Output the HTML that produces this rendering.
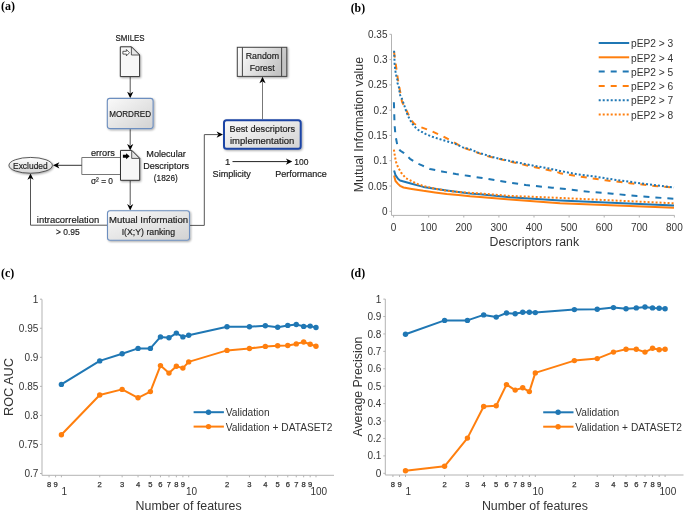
<!DOCTYPE html>
<html><head><meta charset="utf-8"><style>
html,body{margin:0;padding:0;background:#fff;}
body{width:685px;height:512px;overflow:hidden;font-family:"Liberation Sans",sans-serif;}
svg{display:block;will-change:transform;}
</style></head><body>
<svg width="685" height="512" viewBox="0 0 685 512">
<rect width="685" height="512" fill="#fff"/>
<text x="1" y="9.7" font-size="12" text-anchor="start" fill="#000" font-family='"Liberation Serif", serif' font-weight="bold" textLength="14" lengthAdjust="spacingAndGlyphs" >(a)</text>
<text x="350.7" y="11.8" font-size="12" text-anchor="start" fill="#000" font-family='"Liberation Serif", serif' font-weight="bold" textLength="14.4" lengthAdjust="spacingAndGlyphs" >(b)</text>
<text x="0.9" y="276.7" font-size="12" text-anchor="start" fill="#000" font-family='"Liberation Serif", serif' font-weight="bold" textLength="13.3" lengthAdjust="spacingAndGlyphs" >(c)</text>
<text x="350.7" y="276.7" font-size="12" text-anchor="start" fill="#000" font-family='"Liberation Serif", serif' font-weight="bold" textLength="14.4" lengthAdjust="spacingAndGlyphs" >(d)</text>
<line x1="391.5" y1="34.3" x2="391.5" y2="215.4" stroke="#b3b3b3" stroke-width="1"/>
<line x1="391.5" y1="215.4" x2="674.5" y2="215.4" stroke="#b3b3b3" stroke-width="1"/>
<line x1="389.5" y1="211.30" x2="391.5" y2="211.30" stroke="#b3b3b3" stroke-width="1"/>
<text x="387.5" y="214.9" font-size="10" text-anchor="end" fill="#333333" font-family='"Liberation Sans", sans-serif' font-weight="normal" >0</text>
<line x1="389.5" y1="186.02" x2="391.5" y2="186.02" stroke="#b3b3b3" stroke-width="1"/>
<text x="387.5" y="189.615" font-size="10" text-anchor="end" fill="#333333" font-family='"Liberation Sans", sans-serif' font-weight="normal" >0.05</text>
<line x1="389.5" y1="160.73" x2="391.5" y2="160.73" stroke="#b3b3b3" stroke-width="1"/>
<text x="387.5" y="164.33" font-size="10" text-anchor="end" fill="#333333" font-family='"Liberation Sans", sans-serif' font-weight="normal" >0.1</text>
<line x1="389.5" y1="135.44" x2="391.5" y2="135.44" stroke="#b3b3b3" stroke-width="1"/>
<text x="387.5" y="139.045" font-size="10" text-anchor="end" fill="#333333" font-family='"Liberation Sans", sans-serif' font-weight="normal" >0.15</text>
<line x1="389.5" y1="110.16" x2="391.5" y2="110.16" stroke="#b3b3b3" stroke-width="1"/>
<text x="387.5" y="113.76" font-size="10" text-anchor="end" fill="#333333" font-family='"Liberation Sans", sans-serif' font-weight="normal" >0.2</text>
<line x1="389.5" y1="84.88" x2="391.5" y2="84.88" stroke="#b3b3b3" stroke-width="1"/>
<text x="387.5" y="88.47500000000001" font-size="10" text-anchor="end" fill="#333333" font-family='"Liberation Sans", sans-serif' font-weight="normal" >0.25</text>
<line x1="389.5" y1="59.59" x2="391.5" y2="59.59" stroke="#b3b3b3" stroke-width="1"/>
<text x="387.5" y="63.190000000000005" font-size="10" text-anchor="end" fill="#333333" font-family='"Liberation Sans", sans-serif' font-weight="normal" >0.3</text>
<line x1="389.5" y1="34.31" x2="391.5" y2="34.31" stroke="#b3b3b3" stroke-width="1"/>
<text x="387.5" y="37.90500000000001" font-size="10" text-anchor="end" fill="#333333" font-family='"Liberation Sans", sans-serif' font-weight="normal" >0.35</text>
<line x1="393.60" y1="215.4" x2="393.60" y2="217.5" stroke="#b3b3b3" stroke-width="1"/>
<text x="393.6" y="230.8" font-size="10" text-anchor="middle" fill="#333333" font-family='"Liberation Sans", sans-serif' font-weight="normal" >0</text>
<line x1="428.70" y1="215.4" x2="428.70" y2="217.5" stroke="#b3b3b3" stroke-width="1"/>
<text x="428.70000000000005" y="230.8" font-size="10" text-anchor="middle" fill="#333333" font-family='"Liberation Sans", sans-serif' font-weight="normal" >100</text>
<line x1="463.80" y1="215.4" x2="463.80" y2="217.5" stroke="#b3b3b3" stroke-width="1"/>
<text x="463.8" y="230.8" font-size="10" text-anchor="middle" fill="#333333" font-family='"Liberation Sans", sans-serif' font-weight="normal" >200</text>
<line x1="498.90" y1="215.4" x2="498.90" y2="217.5" stroke="#b3b3b3" stroke-width="1"/>
<text x="498.90000000000003" y="230.8" font-size="10" text-anchor="middle" fill="#333333" font-family='"Liberation Sans", sans-serif' font-weight="normal" >300</text>
<line x1="534.00" y1="215.4" x2="534.00" y2="217.5" stroke="#b3b3b3" stroke-width="1"/>
<text x="534.0" y="230.8" font-size="10" text-anchor="middle" fill="#333333" font-family='"Liberation Sans", sans-serif' font-weight="normal" >400</text>
<line x1="569.10" y1="215.4" x2="569.10" y2="217.5" stroke="#b3b3b3" stroke-width="1"/>
<text x="569.1" y="230.8" font-size="10" text-anchor="middle" fill="#333333" font-family='"Liberation Sans", sans-serif' font-weight="normal" >500</text>
<line x1="604.20" y1="215.4" x2="604.20" y2="217.5" stroke="#b3b3b3" stroke-width="1"/>
<text x="604.2" y="230.8" font-size="10" text-anchor="middle" fill="#333333" font-family='"Liberation Sans", sans-serif' font-weight="normal" >600</text>
<line x1="639.30" y1="215.4" x2="639.30" y2="217.5" stroke="#b3b3b3" stroke-width="1"/>
<text x="639.3" y="230.8" font-size="10" text-anchor="middle" fill="#333333" font-family='"Liberation Sans", sans-serif' font-weight="normal" >700</text>
<line x1="674.40" y1="215.4" x2="674.40" y2="217.5" stroke="#b3b3b3" stroke-width="1"/>
<text x="674.4" y="230.8" font-size="10" text-anchor="middle" fill="#333333" font-family='"Liberation Sans", sans-serif' font-weight="normal" >800</text>
<text x="534.3" y="245.9" font-size="12" text-anchor="middle" fill="#333333" font-family='"Liberation Sans", sans-serif' font-weight="normal" textLength="89.5" lengthAdjust="spacingAndGlyphs" >Descriptors rank</text>
<text x="0" y="0" font-size="12" text-anchor="middle" fill="#333333" font-family='"Liberation Sans", sans-serif' textLength="135.2" lengthAdjust="spacingAndGlyphs" transform="translate(363.2,124.6) rotate(-90)">Mutual Information value</text>
<polyline points="394.10,175.60 395.50,181.00 398.00,183.90 400.00,185.80 403.50,187.50 411.70,188.90 423.40,190.80 435.00,192.40 446.70,193.90 458.40,195.10 470.00,196.30 480.00,197.10 510.00,199.40 560.00,203.20 674.00,207.80" fill="none" stroke="#ff7f0e" stroke-width="2" stroke-linejoin="round"/>
<polyline points="394.10,170.50 395.50,175.10 398.00,178.80 400.00,180.50 411.70,183.80 423.40,186.90 435.00,188.70 446.70,190.40 458.40,192.00 470.00,193.40 480.00,194.30 510.00,197.30 560.00,200.50 674.00,205.40" fill="none" stroke="#1f77b4" stroke-width="2" stroke-linejoin="round"/>
<polyline points="393.90,149.60 395.00,156.70 396.00,161.90 398.00,167.20 401.00,172.50 402.90,174.70 405.80,178.20 411.70,181.10 417.50,184.00 423.40,186.00 435.00,188.70 446.70,190.80 458.40,192.00 470.00,192.80 480.00,193.40 510.00,195.90 559.00,197.90 674.00,203.30" fill="none" stroke="#ff7f0e" stroke-width="2" stroke-linejoin="round" stroke-dasharray="2,2"/>
<polyline points="393.90,102.30 394.20,112.80 394.60,125.10 395.50,135.60 397.50,146.10 400.00,150.50 404.00,153.20 410.00,158.80 416.00,162.80 422.00,165.40 430.00,169.00 441.80,171.40 456.00,174.10 467.70,175.80 480.30,177.70 503.10,181.50 525.80,185.00 552.10,187.70 560.00,188.40 589.80,191.90 612.60,193.70 637.10,196.10 674.00,198.80" fill="none" stroke="#1f77b4" stroke-width="2" stroke-linejoin="round" stroke-dasharray="6,6"/>
<polyline points="394.00,51.70 396.00,66.00 398.00,80.00 402.00,101.70 406.70,111.00 411.40,120.50 414.00,123.50 418.50,126.30 431.30,131.00 443.00,136.30 452.40,141.50 463.50,147.70 486.30,155.90 510.80,161.70 533.60,167.00 556.40,171.70 560.00,173.20 581.00,176.70 605.50,180.30 630.00,183.20 654.60,185.90 674.00,187.60" fill="none" stroke="#ff7f0e" stroke-width="2" stroke-linejoin="round" stroke-dasharray="6,6"/>
<polyline points="394.10,50.80 394.60,63.40 395.00,67.50 395.50,71.40 396.20,75.20 397.30,79.30 397.60,83.40 399.00,87.50 399.40,91.00 400.10,95.10 402.00,98.80 404.40,105.80 406.70,112.80 409.60,119.30 412.60,124.00 415.50,127.50 418.40,130.00 425.40,133.90 432.50,136.80 440.10,139.20 447.70,141.50 455.90,144.10 462.90,147.40 470.00,149.10 477.50,152.40 495.00,157.70 512.60,161.50 530.00,165.00 547.60,168.20 560.00,170.90 577.50,174.40 595.00,176.60 612.60,179.40 630.00,181.80 647.60,184.30 674.00,187.40" fill="none" stroke="#1f77b4" stroke-width="2" stroke-linejoin="round" stroke-dasharray="2,2"/>
<line x1="598.7" y1="43.00" x2="629.2" y2="43.00" stroke="#1f77b4" stroke-width="2"/>
<text x="631" y="47.2" font-size="10" text-anchor="start" fill="#333333" font-family='"Liberation Sans", sans-serif' font-weight="normal" textLength="42.3" lengthAdjust="spacingAndGlyphs" >pEP2 &gt; 3</text>
<line x1="598.7" y1="57.30" x2="629.2" y2="57.30" stroke="#ff7f0e" stroke-width="2"/>
<text x="631" y="61.5" font-size="10" text-anchor="start" fill="#333333" font-family='"Liberation Sans", sans-serif' font-weight="normal" textLength="42.3" lengthAdjust="spacingAndGlyphs" >pEP2 &gt; 4</text>
<line x1="598.7" y1="71.60" x2="629.2" y2="71.60" stroke="#1f77b4" stroke-width="2" stroke-dasharray="6,6"/>
<text x="631" y="75.8" font-size="10" text-anchor="start" fill="#333333" font-family='"Liberation Sans", sans-serif' font-weight="normal" textLength="42.3" lengthAdjust="spacingAndGlyphs" >pEP2 &gt; 5</text>
<line x1="598.7" y1="85.90" x2="629.2" y2="85.90" stroke="#ff7f0e" stroke-width="2" stroke-dasharray="6,6"/>
<text x="631" y="90.10000000000001" font-size="10" text-anchor="start" fill="#333333" font-family='"Liberation Sans", sans-serif' font-weight="normal" textLength="42.3" lengthAdjust="spacingAndGlyphs" >pEP2 &gt; 6</text>
<line x1="598.7" y1="100.20" x2="629.2" y2="100.20" stroke="#1f77b4" stroke-width="2" stroke-dasharray="2,2"/>
<text x="631" y="104.4" font-size="10" text-anchor="start" fill="#333333" font-family='"Liberation Sans", sans-serif' font-weight="normal" textLength="42.3" lengthAdjust="spacingAndGlyphs" >pEP2 &gt; 7</text>
<line x1="598.7" y1="114.50" x2="629.2" y2="114.50" stroke="#ff7f0e" stroke-width="2" stroke-dasharray="2,2"/>
<text x="631" y="118.7" font-size="10" text-anchor="start" fill="#333333" font-family='"Liberation Sans", sans-serif' font-weight="normal" textLength="42.3" lengthAdjust="spacingAndGlyphs" >pEP2 &gt; 8</text>
<line x1="42" y1="299.4" x2="42" y2="475.3" stroke="#b3b3b3" stroke-width="1"/>
<line x1="42" y1="475.3" x2="334" y2="475.3" stroke="#b3b3b3" stroke-width="1"/>
<line x1="40" y1="299.20" x2="42" y2="299.20" stroke="#b3b3b3" stroke-width="1"/>
<text x="38.3" y="302.8" font-size="10" text-anchor="end" fill="#333333" font-family='"Liberation Sans", sans-serif' font-weight="normal" >1</text>
<line x1="40" y1="328.25" x2="42" y2="328.25" stroke="#b3b3b3" stroke-width="1"/>
<text x="38.3" y="331.85" font-size="10" text-anchor="end" fill="#333333" font-family='"Liberation Sans", sans-serif' font-weight="normal" >0.95</text>
<line x1="40" y1="357.30" x2="42" y2="357.30" stroke="#b3b3b3" stroke-width="1"/>
<text x="38.3" y="360.90000000000003" font-size="10" text-anchor="end" fill="#333333" font-family='"Liberation Sans", sans-serif' font-weight="normal" >0.9</text>
<line x1="40" y1="386.35" x2="42" y2="386.35" stroke="#b3b3b3" stroke-width="1"/>
<text x="38.3" y="389.95000000000005" font-size="10" text-anchor="end" fill="#333333" font-family='"Liberation Sans", sans-serif' font-weight="normal" >0.85</text>
<line x1="40" y1="415.40" x2="42" y2="415.40" stroke="#b3b3b3" stroke-width="1"/>
<text x="38.3" y="419.0" font-size="10" text-anchor="end" fill="#333333" font-family='"Liberation Sans", sans-serif' font-weight="normal" >0.8</text>
<line x1="40" y1="444.45" x2="42" y2="444.45" stroke="#b3b3b3" stroke-width="1"/>
<text x="38.3" y="448.05" font-size="10" text-anchor="end" fill="#333333" font-family='"Liberation Sans", sans-serif' font-weight="normal" >0.75</text>
<line x1="40" y1="473.50" x2="42" y2="473.50" stroke="#b3b3b3" stroke-width="1"/>
<text x="38.3" y="477.1" font-size="10" text-anchor="end" fill="#333333" font-family='"Liberation Sans", sans-serif' font-weight="normal" >0.7</text>
<line x1="49.06" y1="475.3" x2="49.06" y2="477.3" stroke="#b3b3b3" stroke-width="1"/>
<text x="49.063355344074424" y="487.1" font-size="7.6" text-anchor="middle" fill="#333333" font-family='"Liberation Sans", sans-serif' font-weight="normal" stroke="#333" stroke-width="0.25">8</text>
<line x1="55.58" y1="475.3" x2="55.58" y2="477.3" stroke="#b3b3b3" stroke-width="1"/>
<text x="55.57507145162606" y="487.1" font-size="7.6" text-anchor="middle" fill="#333333" font-family='"Liberation Sans", sans-serif' font-weight="normal" stroke="#333" stroke-width="0.25">9</text>
<line x1="61.40" y1="475.3" x2="61.40" y2="477.3" stroke="#b3b3b3" stroke-width="1"/>
<text x="64.2" y="494.9" font-size="10" text-anchor="middle" fill="#333333" font-family='"Liberation Sans", sans-serif' font-weight="normal" >1</text>
<line x1="99.72" y1="475.3" x2="99.72" y2="477.3" stroke="#b3b3b3" stroke-width="1"/>
<text x="99.72111844802481" y="487.1" font-size="7.6" text-anchor="middle" fill="#333333" font-family='"Liberation Sans", sans-serif' font-weight="normal" stroke="#333" stroke-width="0.25">2</text>
<line x1="122.14" y1="475.3" x2="122.14" y2="477.3" stroke="#b3b3b3" stroke-width="1"/>
<text x="122.13753572581302" y="487.1" font-size="7.6" text-anchor="middle" fill="#333333" font-family='"Liberation Sans", sans-serif' font-weight="normal" stroke="#333" stroke-width="0.25">3</text>
<line x1="138.04" y1="475.3" x2="138.04" y2="477.3" stroke="#b3b3b3" stroke-width="1"/>
<text x="138.04223689604962" y="487.1" font-size="7.6" text-anchor="middle" fill="#333333" font-family='"Liberation Sans", sans-serif' font-weight="normal" stroke="#333" stroke-width="0.25">4</text>
<line x1="150.38" y1="475.3" x2="150.38" y2="477.3" stroke="#b3b3b3" stroke-width="1"/>
<text x="150.37888155197518" y="487.1" font-size="7.6" text-anchor="middle" fill="#333333" font-family='"Liberation Sans", sans-serif' font-weight="normal" stroke="#333" stroke-width="0.25">5</text>
<line x1="160.46" y1="475.3" x2="160.46" y2="477.3" stroke="#b3b3b3" stroke-width="1"/>
<text x="160.45865417383783" y="487.1" font-size="7.6" text-anchor="middle" fill="#333333" font-family='"Liberation Sans", sans-serif' font-weight="normal" stroke="#333" stroke-width="0.25">6</text>
<line x1="168.98" y1="475.3" x2="168.98" y2="477.3" stroke="#b3b3b3" stroke-width="1"/>
<text x="168.98098049381488" y="487.1" font-size="7.6" text-anchor="middle" fill="#333333" font-family='"Liberation Sans", sans-serif' font-weight="normal" stroke="#333" stroke-width="0.25">7</text>
<line x1="176.36" y1="475.3" x2="176.36" y2="477.3" stroke="#b3b3b3" stroke-width="1"/>
<text x="176.36335534407442" y="487.1" font-size="7.6" text-anchor="middle" fill="#333333" font-family='"Liberation Sans", sans-serif' font-weight="normal" stroke="#333" stroke-width="0.25">8</text>
<line x1="182.88" y1="475.3" x2="182.88" y2="477.3" stroke="#b3b3b3" stroke-width="1"/>
<text x="182.87507145162604" y="487.1" font-size="7.6" text-anchor="middle" fill="#333333" font-family='"Liberation Sans", sans-serif' font-weight="normal" stroke="#333" stroke-width="0.25">9</text>
<line x1="188.70" y1="475.3" x2="188.70" y2="477.3" stroke="#b3b3b3" stroke-width="1"/>
<text x="191.5" y="494.9" font-size="10" text-anchor="middle" fill="#333333" font-family='"Liberation Sans", sans-serif' font-weight="normal" >10</text>
<line x1="227.02" y1="475.3" x2="227.02" y2="477.3" stroke="#b3b3b3" stroke-width="1"/>
<text x="227.02111844802482" y="487.1" font-size="7.6" text-anchor="middle" fill="#333333" font-family='"Liberation Sans", sans-serif' font-weight="normal" stroke="#333" stroke-width="0.25">2</text>
<line x1="249.44" y1="475.3" x2="249.44" y2="477.3" stroke="#b3b3b3" stroke-width="1"/>
<text x="249.43753572581304" y="487.1" font-size="7.6" text-anchor="middle" fill="#333333" font-family='"Liberation Sans", sans-serif' font-weight="normal" stroke="#333" stroke-width="0.25">3</text>
<line x1="265.34" y1="475.3" x2="265.34" y2="477.3" stroke="#b3b3b3" stroke-width="1"/>
<text x="265.3422368960496" y="487.1" font-size="7.6" text-anchor="middle" fill="#333333" font-family='"Liberation Sans", sans-serif' font-weight="normal" stroke="#333" stroke-width="0.25">4</text>
<line x1="277.68" y1="475.3" x2="277.68" y2="477.3" stroke="#b3b3b3" stroke-width="1"/>
<text x="277.67888155197517" y="487.1" font-size="7.6" text-anchor="middle" fill="#333333" font-family='"Liberation Sans", sans-serif' font-weight="normal" stroke="#333" stroke-width="0.25">5</text>
<line x1="287.76" y1="475.3" x2="287.76" y2="477.3" stroke="#b3b3b3" stroke-width="1"/>
<text x="287.75865417383784" y="487.1" font-size="7.6" text-anchor="middle" fill="#333333" font-family='"Liberation Sans", sans-serif' font-weight="normal" stroke="#333" stroke-width="0.25">6</text>
<line x1="296.28" y1="475.3" x2="296.28" y2="477.3" stroke="#b3b3b3" stroke-width="1"/>
<text x="296.28098049381487" y="487.1" font-size="7.6" text-anchor="middle" fill="#333333" font-family='"Liberation Sans", sans-serif' font-weight="normal" stroke="#333" stroke-width="0.25">7</text>
<line x1="303.66" y1="475.3" x2="303.66" y2="477.3" stroke="#b3b3b3" stroke-width="1"/>
<text x="303.6633553440744" y="487.1" font-size="7.6" text-anchor="middle" fill="#333333" font-family='"Liberation Sans", sans-serif' font-weight="normal" stroke="#333" stroke-width="0.25">8</text>
<line x1="310.18" y1="475.3" x2="310.18" y2="477.3" stroke="#b3b3b3" stroke-width="1"/>
<text x="310.175071451626" y="487.1" font-size="7.6" text-anchor="middle" fill="#333333" font-family='"Liberation Sans", sans-serif' font-weight="normal" stroke="#333" stroke-width="0.25">9</text>
<line x1="316.00" y1="475.3" x2="316.00" y2="477.3" stroke="#b3b3b3" stroke-width="1"/>
<text x="318.8" y="494.9" font-size="10" text-anchor="middle" fill="#333333" font-family='"Liberation Sans", sans-serif' font-weight="normal" >100</text>
<polyline points="61.40,434.70 99.72,395.00 122.14,389.40 138.04,397.80 150.38,391.60 160.46,365.60 168.98,373.10 176.36,366.25 182.88,368.10 188.70,361.90 227.02,350.40 249.44,348.50 265.34,346.40 277.68,345.70 287.76,345.50 296.28,343.90 303.66,342.00 310.18,344.30 316.00,346.20" fill="none" stroke="#ff7f0e" stroke-width="2" stroke-linejoin="round"/>
<circle cx="61.40" cy="434.70" r="2.7" fill="#ff7f0e"/>
<circle cx="99.72" cy="395.00" r="2.7" fill="#ff7f0e"/>
<circle cx="122.14" cy="389.40" r="2.7" fill="#ff7f0e"/>
<circle cx="138.04" cy="397.80" r="2.7" fill="#ff7f0e"/>
<circle cx="150.38" cy="391.60" r="2.7" fill="#ff7f0e"/>
<circle cx="160.46" cy="365.60" r="2.7" fill="#ff7f0e"/>
<circle cx="168.98" cy="373.10" r="2.7" fill="#ff7f0e"/>
<circle cx="176.36" cy="366.25" r="2.7" fill="#ff7f0e"/>
<circle cx="182.88" cy="368.10" r="2.7" fill="#ff7f0e"/>
<circle cx="188.70" cy="361.90" r="2.7" fill="#ff7f0e"/>
<circle cx="227.02" cy="350.40" r="2.7" fill="#ff7f0e"/>
<circle cx="249.44" cy="348.50" r="2.7" fill="#ff7f0e"/>
<circle cx="265.34" cy="346.40" r="2.7" fill="#ff7f0e"/>
<circle cx="277.68" cy="345.70" r="2.7" fill="#ff7f0e"/>
<circle cx="287.76" cy="345.50" r="2.7" fill="#ff7f0e"/>
<circle cx="296.28" cy="343.90" r="2.7" fill="#ff7f0e"/>
<circle cx="303.66" cy="342.00" r="2.7" fill="#ff7f0e"/>
<circle cx="310.18" cy="344.30" r="2.7" fill="#ff7f0e"/>
<circle cx="316.00" cy="346.20" r="2.7" fill="#ff7f0e"/>
<polyline points="61.40,384.40 99.72,360.90 122.14,353.75 138.04,348.40 150.38,348.40 160.46,336.90 168.98,337.80 176.36,333.10 182.88,336.90 188.70,335.30 227.02,326.80 249.44,326.80 265.34,325.70 277.68,327.30 287.76,325.40 296.28,324.50 303.66,326.40 310.18,326.10 316.00,327.50" fill="none" stroke="#1f77b4" stroke-width="2" stroke-linejoin="round"/>
<circle cx="61.40" cy="384.40" r="2.7" fill="#1f77b4"/>
<circle cx="99.72" cy="360.90" r="2.7" fill="#1f77b4"/>
<circle cx="122.14" cy="353.75" r="2.7" fill="#1f77b4"/>
<circle cx="138.04" cy="348.40" r="2.7" fill="#1f77b4"/>
<circle cx="150.38" cy="348.40" r="2.7" fill="#1f77b4"/>
<circle cx="160.46" cy="336.90" r="2.7" fill="#1f77b4"/>
<circle cx="168.98" cy="337.80" r="2.7" fill="#1f77b4"/>
<circle cx="176.36" cy="333.10" r="2.7" fill="#1f77b4"/>
<circle cx="182.88" cy="336.90" r="2.7" fill="#1f77b4"/>
<circle cx="188.70" cy="335.30" r="2.7" fill="#1f77b4"/>
<circle cx="227.02" cy="326.80" r="2.7" fill="#1f77b4"/>
<circle cx="249.44" cy="326.80" r="2.7" fill="#1f77b4"/>
<circle cx="265.34" cy="325.70" r="2.7" fill="#1f77b4"/>
<circle cx="277.68" cy="327.30" r="2.7" fill="#1f77b4"/>
<circle cx="287.76" cy="325.40" r="2.7" fill="#1f77b4"/>
<circle cx="296.28" cy="324.50" r="2.7" fill="#1f77b4"/>
<circle cx="303.66" cy="326.40" r="2.7" fill="#1f77b4"/>
<circle cx="310.18" cy="326.10" r="2.7" fill="#1f77b4"/>
<circle cx="316.00" cy="327.50" r="2.7" fill="#1f77b4"/>
<line x1="193.6" y1="412.2" x2="223.9" y2="412.2" stroke="#1f77b4" stroke-width="2"/>
<circle cx="208.5" cy="412.2" r="2.7" fill="#1f77b4"/>
<text x="225.7" y="416.2" font-size="10.2" text-anchor="start" fill="#333333" font-family='"Liberation Sans", sans-serif' font-weight="normal" >Validation</text>
<line x1="193.6" y1="426.59999999999997" x2="223.9" y2="426.59999999999997" stroke="#ff7f0e" stroke-width="2"/>
<circle cx="208.5" cy="426.59999999999997" r="2.7" fill="#ff7f0e"/>
<text x="225.7" y="430.59999999999997" font-size="10.2" text-anchor="start" fill="#333333" font-family='"Liberation Sans", sans-serif' font-weight="normal" >Validation + DATASET2</text>
<text x="188.6" y="510.2" font-size="12" text-anchor="middle" fill="#333333" font-family='"Liberation Sans", sans-serif' font-weight="normal" textLength="106" lengthAdjust="spacingAndGlyphs" >Number of features</text>
<text x="0" y="0" font-size="12" text-anchor="middle" fill="#333333" font-family='"Liberation Sans", sans-serif' textLength="58" lengthAdjust="spacingAndGlyphs" transform="translate(13.0,387) rotate(-90)">ROC AUC</text>
<line x1="385.3" y1="299.1" x2="385.3" y2="475" stroke="#b3b3b3" stroke-width="1"/>
<line x1="385.3" y1="475" x2="683.5" y2="475" stroke="#b3b3b3" stroke-width="1"/>
<line x1="383.3" y1="299.10" x2="385.3" y2="299.10" stroke="#b3b3b3" stroke-width="1"/>
<text x="381.3" y="302.70000000000005" font-size="10" text-anchor="end" fill="#333333" font-family='"Liberation Sans", sans-serif' font-weight="normal" >1</text>
<line x1="383.3" y1="316.52" x2="385.3" y2="316.52" stroke="#b3b3b3" stroke-width="1"/>
<text x="381.3" y="320.12000000000006" font-size="10" text-anchor="end" fill="#333333" font-family='"Liberation Sans", sans-serif' font-weight="normal" >0.9</text>
<line x1="383.3" y1="333.94" x2="385.3" y2="333.94" stroke="#b3b3b3" stroke-width="1"/>
<text x="381.3" y="337.5400000000001" font-size="10" text-anchor="end" fill="#333333" font-family='"Liberation Sans", sans-serif' font-weight="normal" >0.8</text>
<line x1="383.3" y1="351.36" x2="385.3" y2="351.36" stroke="#b3b3b3" stroke-width="1"/>
<text x="381.3" y="354.96000000000004" font-size="10" text-anchor="end" fill="#333333" font-family='"Liberation Sans", sans-serif' font-weight="normal" >0.7</text>
<line x1="383.3" y1="368.78" x2="385.3" y2="368.78" stroke="#b3b3b3" stroke-width="1"/>
<text x="381.3" y="372.38000000000005" font-size="10" text-anchor="end" fill="#333333" font-family='"Liberation Sans", sans-serif' font-weight="normal" >0.6</text>
<line x1="383.3" y1="386.20" x2="385.3" y2="386.20" stroke="#b3b3b3" stroke-width="1"/>
<text x="381.3" y="389.80000000000007" font-size="10" text-anchor="end" fill="#333333" font-family='"Liberation Sans", sans-serif' font-weight="normal" >0.5</text>
<line x1="383.3" y1="403.62" x2="385.3" y2="403.62" stroke="#b3b3b3" stroke-width="1"/>
<text x="381.3" y="407.22" font-size="10" text-anchor="end" fill="#333333" font-family='"Liberation Sans", sans-serif' font-weight="normal" >0.4</text>
<line x1="383.3" y1="421.04" x2="385.3" y2="421.04" stroke="#b3b3b3" stroke-width="1"/>
<text x="381.3" y="424.64000000000004" font-size="10" text-anchor="end" fill="#333333" font-family='"Liberation Sans", sans-serif' font-weight="normal" >0.3</text>
<line x1="383.3" y1="438.46" x2="385.3" y2="438.46" stroke="#b3b3b3" stroke-width="1"/>
<text x="381.3" y="442.06000000000006" font-size="10" text-anchor="end" fill="#333333" font-family='"Liberation Sans", sans-serif' font-weight="normal" >0.2</text>
<line x1="383.3" y1="455.88" x2="385.3" y2="455.88" stroke="#b3b3b3" stroke-width="1"/>
<text x="381.3" y="459.4800000000001" font-size="10" text-anchor="end" fill="#333333" font-family='"Liberation Sans", sans-serif' font-weight="normal" >0.1</text>
<line x1="383.3" y1="473.30" x2="385.3" y2="473.30" stroke="#b3b3b3" stroke-width="1"/>
<text x="381.3" y="476.9000000000001" font-size="10" text-anchor="end" fill="#333333" font-family='"Liberation Sans", sans-serif' font-weight="normal" >0</text>
<line x1="392.92" y1="475" x2="392.92" y2="477" stroke="#b3b3b3" stroke-width="1"/>
<text x="392.9210803115543" y="487.1" font-size="7.6" text-anchor="middle" fill="#333333" font-family='"Liberation Sans", sans-serif' font-weight="normal" stroke="#333" stroke-width="0.25">8</text>
<line x1="399.56" y1="475" x2="399.56" y2="477" stroke="#b3b3b3" stroke-width="1"/>
<text x="399.56067772522437" y="487.1" font-size="7.6" text-anchor="middle" fill="#333333" font-family='"Liberation Sans", sans-serif' font-weight="normal" stroke="#333" stroke-width="0.25">9</text>
<line x1="405.50" y1="475" x2="405.50" y2="477" stroke="#b3b3b3" stroke-width="1"/>
<text x="408.3" y="494.9" font-size="10" text-anchor="middle" fill="#333333" font-family='"Liberation Sans", sans-serif' font-weight="normal" >1</text>
<line x1="444.57" y1="475" x2="444.57" y2="477" stroke="#b3b3b3" stroke-width="1"/>
<text x="444.5736934371848" y="487.1" font-size="7.6" text-anchor="middle" fill="#333333" font-family='"Liberation Sans", sans-serif' font-weight="normal" stroke="#333" stroke-width="0.25">2</text>
<line x1="467.43" y1="475" x2="467.43" y2="477" stroke="#b3b3b3" stroke-width="1"/>
<text x="467.4303388626122" y="487.1" font-size="7.6" text-anchor="middle" fill="#333333" font-family='"Liberation Sans", sans-serif' font-weight="normal" stroke="#333" stroke-width="0.25">3</text>
<line x1="483.65" y1="475" x2="483.65" y2="477" stroke="#b3b3b3" stroke-width="1"/>
<text x="483.64738687436954" y="487.1" font-size="7.6" text-anchor="middle" fill="#333333" font-family='"Liberation Sans", sans-serif' font-weight="normal" stroke="#333" stroke-width="0.25">4</text>
<line x1="496.23" y1="475" x2="496.23" y2="477" stroke="#b3b3b3" stroke-width="1"/>
<text x="496.22630656281524" y="487.1" font-size="7.6" text-anchor="middle" fill="#333333" font-family='"Liberation Sans", sans-serif' font-weight="normal" stroke="#333" stroke-width="0.25">5</text>
<line x1="506.50" y1="475" x2="506.50" y2="477" stroke="#b3b3b3" stroke-width="1"/>
<text x="506.50403229979696" y="487.1" font-size="7.6" text-anchor="middle" fill="#333333" font-family='"Liberation Sans", sans-serif' font-weight="normal" stroke="#333" stroke-width="0.25">6</text>
<line x1="515.19" y1="475" x2="515.19" y2="477" stroke="#b3b3b3" stroke-width="1"/>
<text x="515.1937255938506" y="487.1" font-size="7.6" text-anchor="middle" fill="#333333" font-family='"Liberation Sans", sans-serif' font-weight="normal" stroke="#333" stroke-width="0.25">7</text>
<line x1="522.72" y1="475" x2="522.72" y2="477" stroke="#b3b3b3" stroke-width="1"/>
<text x="522.7210803115543" y="487.1" font-size="7.6" text-anchor="middle" fill="#333333" font-family='"Liberation Sans", sans-serif' font-weight="normal" stroke="#333" stroke-width="0.25">8</text>
<line x1="529.36" y1="475" x2="529.36" y2="477" stroke="#b3b3b3" stroke-width="1"/>
<text x="529.3606777252244" y="487.1" font-size="7.6" text-anchor="middle" fill="#333333" font-family='"Liberation Sans", sans-serif' font-weight="normal" stroke="#333" stroke-width="0.25">9</text>
<line x1="535.30" y1="475" x2="535.30" y2="477" stroke="#b3b3b3" stroke-width="1"/>
<text x="538.0999999999999" y="494.9" font-size="10" text-anchor="middle" fill="#333333" font-family='"Liberation Sans", sans-serif' font-weight="normal" >10</text>
<line x1="574.37" y1="475" x2="574.37" y2="477" stroke="#b3b3b3" stroke-width="1"/>
<text x="574.3736934371848" y="487.1" font-size="7.6" text-anchor="middle" fill="#333333" font-family='"Liberation Sans", sans-serif' font-weight="normal" stroke="#333" stroke-width="0.25">2</text>
<line x1="597.23" y1="475" x2="597.23" y2="477" stroke="#b3b3b3" stroke-width="1"/>
<text x="597.2303388626121" y="487.1" font-size="7.6" text-anchor="middle" fill="#333333" font-family='"Liberation Sans", sans-serif' font-weight="normal" stroke="#333" stroke-width="0.25">3</text>
<line x1="613.45" y1="475" x2="613.45" y2="477" stroke="#b3b3b3" stroke-width="1"/>
<text x="613.4473868743696" y="487.1" font-size="7.6" text-anchor="middle" fill="#333333" font-family='"Liberation Sans", sans-serif' font-weight="normal" stroke="#333" stroke-width="0.25">4</text>
<line x1="626.03" y1="475" x2="626.03" y2="477" stroke="#b3b3b3" stroke-width="1"/>
<text x="626.0263065628153" y="487.1" font-size="7.6" text-anchor="middle" fill="#333333" font-family='"Liberation Sans", sans-serif' font-weight="normal" stroke="#333" stroke-width="0.25">5</text>
<line x1="636.30" y1="475" x2="636.30" y2="477" stroke="#b3b3b3" stroke-width="1"/>
<text x="636.304032299797" y="487.1" font-size="7.6" text-anchor="middle" fill="#333333" font-family='"Liberation Sans", sans-serif' font-weight="normal" stroke="#333" stroke-width="0.25">6</text>
<line x1="644.99" y1="475" x2="644.99" y2="477" stroke="#b3b3b3" stroke-width="1"/>
<text x="644.9937255938505" y="487.1" font-size="7.6" text-anchor="middle" fill="#333333" font-family='"Liberation Sans", sans-serif' font-weight="normal" stroke="#333" stroke-width="0.25">7</text>
<line x1="652.52" y1="475" x2="652.52" y2="477" stroke="#b3b3b3" stroke-width="1"/>
<text x="652.5210803115543" y="487.1" font-size="7.6" text-anchor="middle" fill="#333333" font-family='"Liberation Sans", sans-serif' font-weight="normal" stroke="#333" stroke-width="0.25">8</text>
<line x1="659.16" y1="475" x2="659.16" y2="477" stroke="#b3b3b3" stroke-width="1"/>
<text x="659.1606777252243" y="487.1" font-size="7.6" text-anchor="middle" fill="#333333" font-family='"Liberation Sans", sans-serif' font-weight="normal" stroke="#333" stroke-width="0.25">9</text>
<line x1="665.10" y1="475" x2="665.10" y2="477" stroke="#b3b3b3" stroke-width="1"/>
<text x="667.9" y="494.9" font-size="10" text-anchor="middle" fill="#333333" font-family='"Liberation Sans", sans-serif' font-weight="normal" >100</text>
<polyline points="405.50,470.80 444.57,466.30 467.43,438.10 483.65,406.50 496.23,405.70 506.50,384.60 515.19,390.10 522.72,387.80 529.36,391.60 535.30,372.90 574.37,360.60 597.23,358.60 613.45,352.10 626.03,349.20 636.30,349.20 644.99,352.10 652.52,348.30 659.16,349.80 665.10,349.20" fill="none" stroke="#ff7f0e" stroke-width="2" stroke-linejoin="round"/>
<circle cx="405.50" cy="470.80" r="2.7" fill="#ff7f0e"/>
<circle cx="444.57" cy="466.30" r="2.7" fill="#ff7f0e"/>
<circle cx="467.43" cy="438.10" r="2.7" fill="#ff7f0e"/>
<circle cx="483.65" cy="406.50" r="2.7" fill="#ff7f0e"/>
<circle cx="496.23" cy="405.70" r="2.7" fill="#ff7f0e"/>
<circle cx="506.50" cy="384.60" r="2.7" fill="#ff7f0e"/>
<circle cx="515.19" cy="390.10" r="2.7" fill="#ff7f0e"/>
<circle cx="522.72" cy="387.80" r="2.7" fill="#ff7f0e"/>
<circle cx="529.36" cy="391.60" r="2.7" fill="#ff7f0e"/>
<circle cx="535.30" cy="372.90" r="2.7" fill="#ff7f0e"/>
<circle cx="574.37" cy="360.60" r="2.7" fill="#ff7f0e"/>
<circle cx="597.23" cy="358.60" r="2.7" fill="#ff7f0e"/>
<circle cx="613.45" cy="352.10" r="2.7" fill="#ff7f0e"/>
<circle cx="626.03" cy="349.20" r="2.7" fill="#ff7f0e"/>
<circle cx="636.30" cy="349.20" r="2.7" fill="#ff7f0e"/>
<circle cx="644.99" cy="352.10" r="2.7" fill="#ff7f0e"/>
<circle cx="652.52" cy="348.30" r="2.7" fill="#ff7f0e"/>
<circle cx="659.16" cy="349.80" r="2.7" fill="#ff7f0e"/>
<circle cx="665.10" cy="349.20" r="2.7" fill="#ff7f0e"/>
<polyline points="405.50,334.20 444.57,320.40 467.43,320.40 483.65,314.90 496.23,317.10 506.50,313.00 515.19,313.80 522.72,312.30 529.36,312.30 535.30,312.60 574.37,309.60 597.23,309.30 613.45,307.60 626.03,308.80 636.30,307.90 644.99,307.00 652.52,307.90 659.16,308.20 665.10,308.80" fill="none" stroke="#1f77b4" stroke-width="2" stroke-linejoin="round"/>
<circle cx="405.50" cy="334.20" r="2.7" fill="#1f77b4"/>
<circle cx="444.57" cy="320.40" r="2.7" fill="#1f77b4"/>
<circle cx="467.43" cy="320.40" r="2.7" fill="#1f77b4"/>
<circle cx="483.65" cy="314.90" r="2.7" fill="#1f77b4"/>
<circle cx="496.23" cy="317.10" r="2.7" fill="#1f77b4"/>
<circle cx="506.50" cy="313.00" r="2.7" fill="#1f77b4"/>
<circle cx="515.19" cy="313.80" r="2.7" fill="#1f77b4"/>
<circle cx="522.72" cy="312.30" r="2.7" fill="#1f77b4"/>
<circle cx="529.36" cy="312.30" r="2.7" fill="#1f77b4"/>
<circle cx="535.30" cy="312.60" r="2.7" fill="#1f77b4"/>
<circle cx="574.37" cy="309.60" r="2.7" fill="#1f77b4"/>
<circle cx="597.23" cy="309.30" r="2.7" fill="#1f77b4"/>
<circle cx="613.45" cy="307.60" r="2.7" fill="#1f77b4"/>
<circle cx="626.03" cy="308.80" r="2.7" fill="#1f77b4"/>
<circle cx="636.30" cy="307.90" r="2.7" fill="#1f77b4"/>
<circle cx="644.99" cy="307.00" r="2.7" fill="#1f77b4"/>
<circle cx="652.52" cy="307.90" r="2.7" fill="#1f77b4"/>
<circle cx="659.16" cy="308.20" r="2.7" fill="#1f77b4"/>
<circle cx="665.10" cy="308.80" r="2.7" fill="#1f77b4"/>
<line x1="543.2" y1="412.3" x2="573.5" y2="412.3" stroke="#1f77b4" stroke-width="2"/>
<circle cx="558.1" cy="412.3" r="2.7" fill="#1f77b4"/>
<text x="575.3000000000001" y="416.3" font-size="10.2" text-anchor="start" fill="#333333" font-family='"Liberation Sans", sans-serif' font-weight="normal" >Validation</text>
<line x1="543.2" y1="426.7" x2="573.5" y2="426.7" stroke="#ff7f0e" stroke-width="2"/>
<circle cx="558.1" cy="426.7" r="2.7" fill="#ff7f0e"/>
<text x="575.3000000000001" y="430.7" font-size="10.2" text-anchor="start" fill="#333333" font-family='"Liberation Sans", sans-serif' font-weight="normal" >Validation + DATASET2</text>
<text x="534.9" y="510.2" font-size="12" text-anchor="middle" fill="#333333" font-family='"Liberation Sans", sans-serif' font-weight="normal" textLength="106" lengthAdjust="spacingAndGlyphs" >Number of features</text>
<text x="0" y="0" font-size="12" text-anchor="middle" fill="#333333" font-family='"Liberation Sans", sans-serif' textLength="100" lengthAdjust="spacingAndGlyphs" transform="translate(362.1,386.6) rotate(-90)">Average Precision</text>
<defs>
<linearGradient id="gbox" x1="0" y1="0" x2="1" y2="1"><stop offset="0" stop-color="#fafafa"/><stop offset="1" stop-color="#d2d2d2"/></linearGradient>
<linearGradient id="gell" x1="0" y1="0" x2="0" y2="1"><stop offset="0" stop-color="#ffffff"/><stop offset="1" stop-color="#d4d4d4"/></linearGradient>
<linearGradient id="grf" x1="0" y1="0" x2="1" y2="0.3"><stop offset="0" stop-color="#ffffff"/><stop offset="1" stop-color="#c4c4c4"/></linearGradient>
<filter id="sh" x="-20%" y="-20%" width="150%" height="150%"><feGaussianBlur in="SourceAlpha" stdDeviation="0.8"/><feOffset dx="1.2" dy="1.2"/><feComponentTransfer><feFuncA type="linear" slope="0.35"/></feComponentTransfer><feMerge><feMergeNode/><feMergeNode in="SourceGraphic"/></feMerge></filter>
</defs>
<line x1="130.2" y1="77" x2="130.2" y2="93" stroke="#555" stroke-width="1"/>
<polygon points="130.20,98.20 127.10,91.80 130.20,93.59 133.30,91.80" fill="#000"/>
<line x1="130.2" y1="128.7" x2="130.2" y2="145" stroke="#555" stroke-width="1"/>
<polygon points="130.20,150.40 127.10,144.00 130.20,145.79 133.30,144.00" fill="#000"/>
<line x1="130.2" y1="180.3" x2="130.2" y2="205" stroke="#555" stroke-width="1"/>
<polygon points="130.20,210.50 127.10,204.10 130.20,205.89 133.30,204.10" fill="#000"/>
<polyline points="120.5,157.5 81.8,157.5 81.8,174.5 120.5,174.5" fill="none" stroke="#777" stroke-width="1"/>
<line x1="81.8" y1="165.3" x2="57" y2="165.3" stroke="#333" stroke-width="1"/>
<polygon points="53.00,165.30 59.40,162.20 57.61,165.30 59.40,168.40" fill="#000"/>
<polyline points="107.3,225.2 30.5,225.2 30.5,178" fill="none" stroke="#555" stroke-width="1"/>
<polygon points="30.50,173.40 27.40,179.80 30.50,178.01 33.60,179.80" fill="#000"/>
<polyline points="189.7,225.4 204.3,225.4 204.3,134.6 218,134.6" fill="none" stroke="#555" stroke-width="1"/>
<polygon points="223.00,134.60 216.60,131.50 218.39,134.60 216.60,137.70" fill="#000"/>
<line x1="262.5" y1="119.2" x2="262.5" y2="82" stroke="#777" stroke-width="1"/>
<polygon points="262.50,76.80 259.40,83.20 262.50,81.41 265.60,83.20" fill="#000"/>
<line x1="232.5" y1="161.6" x2="288" y2="161.6" stroke="#222" stroke-width="1"/>
<polygon points="292.30,161.60 285.90,158.50 287.69,161.60 285.90,164.70" fill="#000"/>
<g filter="url(#sh)"><path d="M120.3,46.8 L131.4,46.8 L139.6,55.0 L139.6,76.6 L120.3,76.6 Z" fill="#f7f7f7" stroke="#333" stroke-width="1"/></g>
<path d="M131.4,46.8 L131.4,55.0 L139.6,55.0 Z" fill="#e6e6e6" stroke="#333" stroke-width="0.8"/>
<path d="M122.89999999999999,51.3 L126.39999999999999,51.3 L126.39999999999999,49.49999999999999 L129.5,52.699999999999996 L126.39999999999999,55.9 L126.39999999999999,54.099999999999994 L122.89999999999999,54.099999999999994 Z" fill="#fff" stroke="#333" stroke-width="0.8"/>
<g filter="url(#sh)"><path d="M120.5,150.4 L131.7,150.4 L139.7,158.4 L139.7,180.3 L120.5,180.3 Z" fill="#f7f7f7" stroke="#333" stroke-width="1"/></g>
<path d="M131.7,150.4 L131.7,158.4 L139.7,158.4 Z" fill="#e6e6e6" stroke="#333" stroke-width="0.8"/>
<path d="M122.89999999999999,154.8 L126.1,154.8 L126.1,153.3 L129.7,156.3 L126.1,159.3 L126.1,157.8 L122.89999999999999,157.8 Z" fill="#000"/>
<g filter="url(#sh)"><rect x="107.3" y="98.4" width="45.8" height="30.2" rx="2.5" fill="url(#gbox)" stroke="#6c8ebf" stroke-width="1.1"/></g>
<g filter="url(#sh)"><rect x="107.5" y="210.7" width="82" height="29.6" rx="2.5" fill="url(#gbox)" stroke="#6c8ebf" stroke-width="1.1"/></g>
<g filter="url(#sh)"><rect x="224" y="120.2" width="76.7" height="28.6" rx="2.5" fill="url(#gbox)" stroke="#1d45a5" stroke-width="2"/></g>
<g filter="url(#sh)"><rect x="237.3" y="47.3" width="49.5" height="29.1" fill="url(#grf)" stroke="#444" stroke-width="1"/></g>
<line x1="242.4" y1="47.3" x2="242.4" y2="76.4" stroke="#444" stroke-width="1"/>
<line x1="281.6" y1="47.3" x2="281.6" y2="76.4" stroke="#444" stroke-width="1"/>
<g filter="url(#sh)"><ellipse cx="30.65" cy="165.35" rx="21.7" ry="7.9" fill="url(#gell)" stroke="#333" stroke-width="0.8"/></g>
<text x="130.1" y="41.2" font-size="8.6" text-anchor="middle" fill="#1a1a1a" font-family='"Liberation Sans", sans-serif' font-weight="normal" textLength="29" lengthAdjust="spacingAndGlyphs" stroke="#1a1a1a" stroke-width="0.18">SMILES</text>
<text x="130.15" y="117" font-size="9.6" text-anchor="middle" fill="#1a1a1a" font-family='"Liberation Sans", sans-serif' font-weight="normal" textLength="41.9" lengthAdjust="spacingAndGlyphs" stroke="#1a1a1a" stroke-width="0.18">MORDRED</text>
<text x="166.05" y="156.9" font-size="9.6" text-anchor="middle" fill="#1a1a1a" font-family='"Liberation Sans", sans-serif' font-weight="normal" textLength="39.5" lengthAdjust="spacingAndGlyphs" stroke="#1a1a1a" stroke-width="0.18">Molecular</text>
<text x="166.1" y="168.7" font-size="9.6" text-anchor="middle" fill="#1a1a1a" font-family='"Liberation Sans", sans-serif' font-weight="normal" textLength="45.8" lengthAdjust="spacingAndGlyphs" stroke="#1a1a1a" stroke-width="0.18">Descriptors</text>
<text x="165.8" y="180.5" font-size="9.6" text-anchor="middle" fill="#1a1a1a" font-family='"Liberation Sans", sans-serif' font-weight="normal" textLength="24" lengthAdjust="spacingAndGlyphs" stroke="#1a1a1a" stroke-width="0.18">(1826)</text>
<text x="102.9" y="155.7" font-size="9.6" text-anchor="middle" fill="#1a1a1a" font-family='"Liberation Sans", sans-serif' font-weight="normal" textLength="24" lengthAdjust="spacingAndGlyphs" stroke="#1a1a1a" stroke-width="0.18">errors</text>
<text x="101.95" y="183.5" font-size="9.6" text-anchor="middle" fill="#1a1a1a" font-family='"Liberation Sans", sans-serif' font-weight="normal" textLength="22.1" lengthAdjust="spacingAndGlyphs" stroke="#1a1a1a" stroke-width="0.18">σ² = 0</text>
<text x="30.35" y="168.6" font-size="9.6" text-anchor="middle" fill="#1a1a1a" font-family='"Liberation Sans", sans-serif' font-weight="normal" textLength="34.7" lengthAdjust="spacingAndGlyphs" stroke="#1a1a1a" stroke-width="0.18">Excluded</text>
<text x="68" y="223" font-size="9.6" text-anchor="middle" fill="#1a1a1a" font-family='"Liberation Sans", sans-serif' font-weight="normal" textLength="62.4" lengthAdjust="spacingAndGlyphs" stroke="#1a1a1a" stroke-width="0.18">intracorrelation</text>
<text x="67.9" y="235" font-size="9.6" text-anchor="middle" fill="#1a1a1a" font-family='"Liberation Sans", sans-serif' font-weight="normal" textLength="23.8" lengthAdjust="spacingAndGlyphs" stroke="#1a1a1a" stroke-width="0.18">&gt; 0.95</text>
<text x="148.55" y="223.1" font-size="9.6" text-anchor="middle" fill="#1a1a1a" font-family='"Liberation Sans", sans-serif' font-weight="normal" textLength="79.1" lengthAdjust="spacingAndGlyphs" stroke="#1a1a1a" stroke-width="0.18">Mutual Information</text>
<text x="148.35" y="234.6" font-size="9.6" text-anchor="middle" fill="#1a1a1a" font-family='"Liberation Sans", sans-serif' font-weight="normal" textLength="53.3" lengthAdjust="spacingAndGlyphs" stroke="#1a1a1a" stroke-width="0.18">I(X;Y) ranking</text>
<text x="262.4" y="132.4" font-size="9.6" text-anchor="middle" fill="#1a1a1a" font-family='"Liberation Sans", sans-serif' font-weight="normal" textLength="65.6" lengthAdjust="spacingAndGlyphs" stroke="#1a1a1a" stroke-width="0.18">Best descriptors</text>
<text x="262.15" y="143.9" font-size="9.6" text-anchor="middle" fill="#1a1a1a" font-family='"Liberation Sans", sans-serif' font-weight="normal" textLength="64.3" lengthAdjust="spacingAndGlyphs" stroke="#1a1a1a" stroke-width="0.18">implementation</text>
<text x="262.4" y="58.8" font-size="9.6" text-anchor="middle" fill="#1a1a1a" font-family='"Liberation Sans", sans-serif' font-weight="normal" textLength="33.4" lengthAdjust="spacingAndGlyphs" stroke="#1a1a1a" stroke-width="0.18">Random</text>
<text x="262.15" y="70.8" font-size="9.6" text-anchor="middle" fill="#1a1a1a" font-family='"Liberation Sans", sans-serif' font-weight="normal" textLength="24.9" lengthAdjust="spacingAndGlyphs" stroke="#1a1a1a" stroke-width="0.18">Forest</text>
<text x="227.6" y="164.9" font-size="9.6" text-anchor="middle" fill="#1a1a1a" font-family='"Liberation Sans", sans-serif' font-weight="normal" stroke="#1a1a1a" stroke-width="0.18">1</text>
<text x="301.3" y="164.9" font-size="9.6" text-anchor="middle" fill="#1a1a1a" font-family='"Liberation Sans", sans-serif' font-weight="normal" textLength="14.2" lengthAdjust="spacingAndGlyphs" stroke="#1a1a1a" stroke-width="0.18">100</text>
<text x="231.75" y="177.2" font-size="9.6" text-anchor="middle" fill="#1a1a1a" font-family='"Liberation Sans", sans-serif' font-weight="normal" textLength="38.3" lengthAdjust="spacingAndGlyphs" stroke="#1a1a1a" stroke-width="0.18">Simplicity</text>
<text x="301" y="177.2" font-size="9.6" text-anchor="middle" fill="#1a1a1a" font-family='"Liberation Sans", sans-serif' font-weight="normal" textLength="51.6" lengthAdjust="spacingAndGlyphs" stroke="#1a1a1a" stroke-width="0.18">Performance</text>
</svg>
</body></html>
